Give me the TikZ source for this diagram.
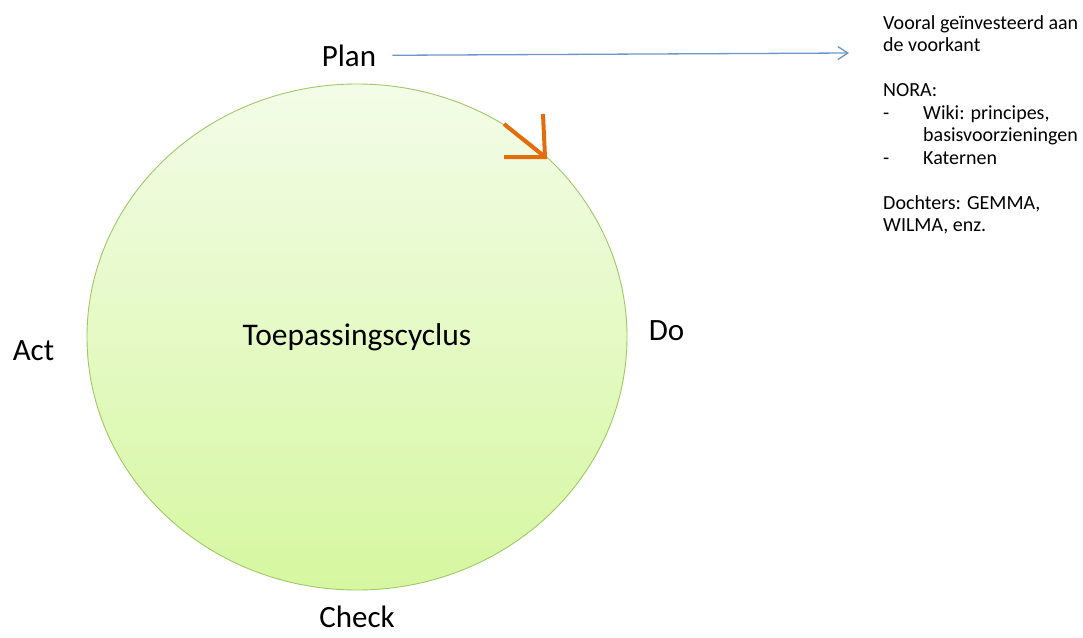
\documentclass[tikz,border=0pt]{standalone}
\usepackage{fontspec}
\setmainfont{Carlito}
\usepackage{xcolor}
\usetikzlibrary{arrows.meta,shapes.geometric}

\definecolor{cyclefilltop}{RGB}{243,252,232}
\definecolor{cyclefillbot}{RGB}{214,247,160}
\definecolor{cycleedge}{RGB}{160,200,100}
\definecolor{planblue}{RGB}{110,150,205}
\definecolor{turnorange}{RGB}{228,108,10}

\tikzset{
	phase/.style={anchor=base, inner sep=0pt, font=\fontsize{31}{37}\selectfont},
	note/.style={anchor=base west, inner sep=0pt, font=\fontsize{20}{22.5}\selectfont},
	cyclearrow/.style={draw=turnorange, line width=4pt, line join=miter}
}

\begin{document}
\begin{tikzpicture}[x=1pt,y=-1pt]
		\useasboundingbox (0,0) rectangle (1083,637);
		
		% Draw the cycle
		\node[ellipse, draw=cycleedge, line width=0.9pt, top color=cyclefilltop, bottom color=cyclefillbot,
			minimum width=540pt, minimum height=506pt, inner sep=0pt, font=\fontsize{31.5}{37}\selectfont]
			(cycle) at (357,337) {Toepassingscyclus};
		
		% Phases round the cycle
		\node[phase] (plan) at (349,66) {Plan};
		\node[phase] (do) at (666.5,340) {Do};
		\node[phase] (check) at (357,627) {Check};
		\node[phase] (act) at (33.5,360) {Act};
		
		% Orange turn arrow on the rim
		\coordinate (turn) at (545,157);
		\draw[cyclearrow] (504,124) -- (turn);
		\draw[cyclearrow] (543,114) -- (turn) -- (504,157);
		
		% Notes on the right
		\node[note] (n1) at (883,29) {Vooral geïnvesteerd aan};
		\node[note] (n2) at (883,51.5) {de voorkant};
		\node[note] (n3) at (883,96.5) {NORA:};
		\node[note] (d1) at (883,119) {-};
		\node[note] (n4) at (923,119) {Wiki: principes,};
		\node[note] (n5) at (923,141.5) {basisvoorzieningen};
		\node[note] (d2) at (883,164) {-};
		\node[note] (n6) at (923,164) {Katernen};
		\node[note] (n7) at (883,209) {Dochters: GEMMA,};
		\node[note] (n8) at (883,231.5) {WILMA, enz.};
		
		% Arrow from Plan to the notes
		\coordinate (notetip) at (849,53);
		\draw[planblue, line width=1.3pt, -{Straight Barb[length=10pt,width=13pt]}, shorten <=16pt] (plan.east) -- (notetip);
	\end{tikzpicture}
\end{document}
